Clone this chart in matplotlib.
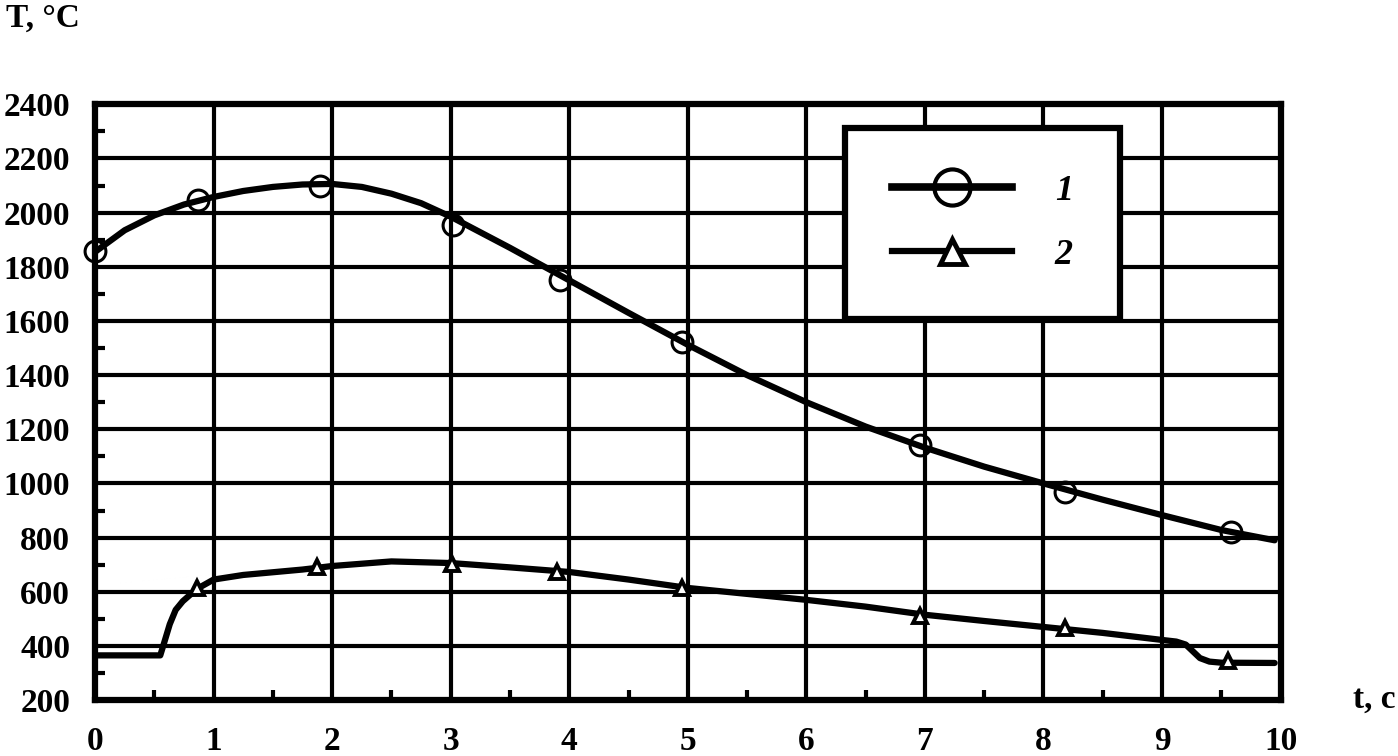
import matplotlib
matplotlib.use("Agg")
import matplotlib.pyplot as plt
from matplotlib.lines import Line2D
from matplotlib.ticker import MultipleLocator

# Кривая 1: точки линии
curve1_t = [0.0, 0.25, 0.5, 0.75, 1.0, 1.25, 1.5, 1.75, 2.0, 2.25, 2.5, 2.75,
            3.0, 3.5, 4.0, 4.5, 5.0, 5.5, 6.0, 6.5, 7.0, 7.5, 8.0, 8.5, 9.0,
            9.5, 9.95]
curve1_T = [1855, 1935, 1990, 2030, 2058, 2080, 2095, 2104, 2106, 2095, 2070,
            2035, 1985, 1870, 1750, 1630, 1512, 1400, 1300, 1210, 1132, 1062,
            1000, 940, 883, 828, 790]
# маркеры кривой 1
marks1_t = [0.0, 0.87, 1.9, 3.02, 3.92, 4.95, 6.96, 8.18, 9.58]
marks1_T = [1860, 2046, 2097, 1955, 1750, 1522, 1142, 968, 821]

# Кривая 2
curve2_t = [0.0, 0.55, 0.59, 0.63, 0.68, 0.74, 0.8, 0.89, 1.0, 1.25, 1.5, 1.75,
            2.0, 2.5, 3.0, 3.5, 4.0, 4.5, 5.0, 5.5, 6.0, 6.5, 7.0, 7.5, 8.0,
            8.5, 9.0, 9.12, 9.2, 9.26, 9.32, 9.4, 9.5, 9.95]
curve2_T = [365, 365, 422, 480, 533, 565, 588, 618, 645, 662, 672, 682,
            695, 712, 706, 690, 673, 645, 614, 592, 570, 545, 515, 492, 470,
            448, 422, 416, 405, 380, 355, 342, 338, 337]
marks2_t = [0.86, 1.87, 3.01, 3.9, 4.95, 6.96, 8.18, 9.56]
marks2_T = [612, 692, 702, 672, 612, 512, 465, 345]

x_ticks = list(range(0, 11))
y_ticks = list(range(200, 2401, 200))

serif = "Liberation Serif"

fig = plt.figure(figsize=(13.98, 7.56), dpi=100)
ax = fig.add_axes([0.068, 0.074, 0.848, 0.788])

ax.set_xlim(0, 10)
ax.set_ylim(200, 2400)
ax.set_xticks(x_ticks)
ax.set_yticks(y_ticks)
ax.xaxis.set_minor_locator(MultipleLocator(0.5))
ax.yaxis.set_minor_locator(MultipleLocator(100))
ax.grid(True, which="major", color="black", linewidth=3)
ax.tick_params(which="major", length=0, labelsize=24)
ax.tick_params(axis="x", which="major", pad=19)
ax.tick_params(axis="y", which="major", pad=18)
ax.tick_params(which="minor", direction="in", length=7, width=3,
               color="black")
for lab in ax.get_xticklabels() + ax.get_yticklabels():
    lab.set_fontfamily(serif)
    lab.set_fontweight("bold")
for sp in ax.spines.values():
    sp.set_linewidth(4.5)
    sp.set_color("black")

ax.plot(curve1_t, curve1_T, color="black", linewidth=4.5, zorder=3,
        solid_capstyle="round", solid_joinstyle="round")
ax.plot(marks1_t, marks1_T, linestyle="none", marker="o", markersize=15,
        markerfacecolor="none", markeredgecolor="black", markeredgewidth=2.2,
        zorder=4, clip_on=False)
ax.plot(curve2_t, curve2_T, color="black", linewidth=4.5, zorder=3,
        solid_capstyle="round", solid_joinstyle="round")
ax.plot(marks2_t, marks2_T, linestyle="none", marker="^", markersize=10,
        markerfacecolor="white", markeredgecolor="black", markeredgewidth=2.8,
        zorder=4)

handles = [
    Line2D([], [], color="black", linewidth=5.5, marker="o", markersize=26,
           markerfacecolor="none", markeredgecolor="black", markeredgewidth=3),
    Line2D([], [], color="black", linewidth=4.5, marker="^", markersize=18,
           markerfacecolor="white", markeredgecolor="black", markeredgewidth=3.5),
]
leg = ax.legend(handles, ["1", "2"], loc="upper left",
                bbox_to_anchor=(0.633, 0.961), frameon=True, fancybox=False,
                borderpad=1.3, labelspacing=0.85, handlelength=3.3,
                handletextpad=1.2, borderaxespad=0,
                prop={"family": serif, "style": "italic", "size": 26,
                      "weight": "bold"})
leg.get_frame().set_edgecolor("black")
leg.get_frame().set_linewidth(4.5)
leg.get_frame().set_alpha(1)
leg.set_zorder(5)

fig.text(0.004, 0.997, "T, °C", ha="left", va="top", fontsize=24,
         fontfamily=serif, fontweight="bold")
fig.text(0.998, 0.075, "t, c", ha="right", va="center", fontsize=24,
         fontfamily=serif, fontweight="bold")

fig.savefig("out.png", dpi=100)
